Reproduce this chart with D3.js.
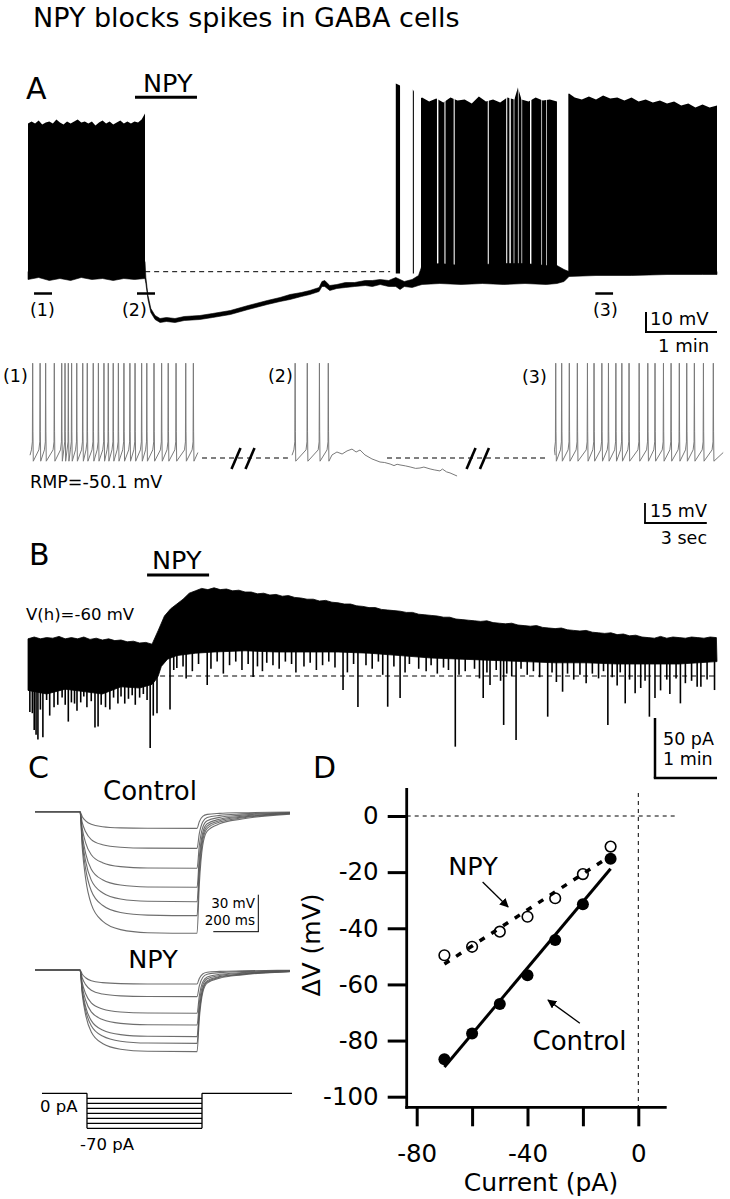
<!DOCTYPE html>
<html>
<head>
<meta charset="utf-8">
<script src="https://cdn.jsdelivr.net/npm/d3@7"></script>
<style>
  body { margin: 0; background: #fff; }
  svg { display: block; }
  text { font-family: "DejaVu Sans", Verdana, sans-serif; fill: #000; }
</style>
</head>
<body>
<div id="chart"></div>
<script>
const titleText = "NPY blocks spikes in GABA cells";

// ---- panel A : whole-cell current clamp, time in min, voltage in mV
const aRmp = -50.1;
const aNpyBar = [1.507, 2.38];
const aDashed = [1.65, 5.1];
// [t, lower edge, upper edge] of the continuous (non-spike) trace body
const aBody = [
  [0,-54,-50],[0.15,-53,-50],[0.3,-54.5,-50],[0.45,-53.5,-50],[0.6,-54.5,-50],[0.75,-53,-50],
  [0.9,-54,-50],[1.05,-53.5,-50],[1.2,-54.5,-50],[1.35,-53.5,-50],[1.5,-54,-50],[1.648,-53.5,-45],
  [1.66,-56,-53],[1.69,-64,-62],[1.73,-70.5,-68.5],[1.79,-74,-72],[1.86,-75.5,-73.5],[1.95,-75,-73],
  [2.07,-75.5,-73.5],[2.2,-74.5,-72.5],[2.42,-74,-72],[2.6,-73,-71],[2.85,-71.5,-69.5],[3.1,-69,-67],
  [3.37,-66.5,-64.5],[3.55,-65,-63],[3.69,-64,-61.5],[3.85,-62.5,-60.5],[3.97,-61.5,-59.5],[4.1,-60,-58],
  [4.14,-57.5,-55],[4.18,-57.5,-54.5],[4.25,-59.5,-57],[4.35,-58.5,-56.5],[4.47,-58,-55.5],[4.6,-57.5,-55.5],
  [4.75,-57,-54.5],[4.85,-57.5,-54.5],[4.96,-56.5,-54],[5.08,-57.5,-54.5],[5.18,-57.5,-53],[5.24,-59,-54],
  [5.3,-57.5,-55],[5.41,-58,-54],[5.5,-57,-52],[5.55,-56.5,-47],[5.8,-56,-46],[6.1,-56.5,-47],
  [6.4,-56,-46.5],[6.7,-56.5,-46],[7.0,-56,-46],[7.3,-56.5,-47],[7.45,-56,-47],[7.55,-55,-49],
  [7.62,-52.5,-50],[8.0,-52,-50],[8.5,-52,-50],[9.0,-51.5,-50],[9.5,-51.5,-50],[9.704,-51.5,-50]
];
// spike peak envelope
const aPeaks = [
  [0,24],[0.05,25],[0.1,24],[0.15,25.5],[0.2,23.5],[0.25,24.5],[0.3,25],[0.35,24],[0.4,26],[0.45,24.5],
  [0.5,23.5],[0.55,25],[0.6,24],[0.65,25],[0.7,26],[0.75,24.5],[0.8,25],[0.85,24],[0.9,25],[0.95,23],
  [1.0,24.5],[1.05,25.5],[1.1,24],[1.15,25],[1.2,23.5],[1.25,24.5],[1.3,25.5],[1.35,24],[1.4,25],
  [1.45,24],[1.5,25],[1.55,24.5],[1.6,26],[1.648,29],[5.18,44],[5.24,43],[5.3,40],[5.42,41],[5.5,36],
  [5.55,37],[5.65,35],[5.75,36.5],[5.85,34.5],[5.95,37],[6.05,35.5],[6.15,36],[6.25,34],[6.35,37.5],
  [6.45,35],[6.55,36],[6.65,34.5],[6.75,37],[6.85,36],[6.9,42],[6.95,36],[7.05,35],[7.15,37],
  [7.25,35.5],[7.35,36],[7.45,35],[7.55,38],[7.62,39],[7.7,37],[7.8,36],[7.9,37.5],[8.0,36],
  [8.1,38],[8.2,36.5],[8.3,37],[8.4,35.5],[8.5,37],[8.6,35],[8.7,36],[8.8,34.5],[8.9,35.5],
  [9.0,34],[9.1,35],[9.2,33],[9.3,34],[9.4,32],[9.5,33.5],[9.6,32],[9.704,33]
];
// intervals with firing
const aSpikeRuns = [
  [0,1.648],[5.18,5.24],[5.42,5.435],[5.535,5.76],[5.78,5.865],[5.88,5.995],[6.01,6.475],
  [6.49,6.735],[6.75,6.78],[6.8,6.84],[6.85,6.9],[6.91,6.95],[6.96,7.07],[7.09,7.23],
  [7.24,7.3],[7.31,7.45],[7.61,9.704]
];
const aWindows = [[0.085,0.338],[1.535,1.789],[7.99,8.24]];

// ---- insets (1)(2)(3): time in s from start of each sweep
const insetOffsets = [0, 12.72, 25.49];
const insetEnds = [8.15, 8.01, 8.16];
const inset1Spikes = [0.13,0.49,0.76,1.18,1.54,1.70,1.86,2.02,2.27,2.56,2.78,3.07,3.32,3.59,3.80,
  4.04,4.29,4.56,4.85,5.10,5.42,5.67,6.02,6.39,6.71,7.09,7.56,7.93];
const inset2Spikes = [0.15,0.74,1.33,1.76];
const inset2Drift = [[1.94,-47.8],[2.18,-45.6],[2.43,-47.1],[2.67,-44.8],[2.91,-43.4],[3.11,-45.6],
  [3.3,-44.1],[3.54,-47.8],[3.88,-50.8],[4.27,-53.1],[4.5,-53.5],[4.76,-54.6],[4.95,-55.8],[5.1,-54.8],
  [5.24,-55.3],[5.5,-56.0],[5.73,-56.8],[6.0,-57.9],[6.21,-57.6],[6.4,-56.9],[6.7,-58.3],[6.9,-59.0],
  [7.18,-59.8],[7.3,-58.4],[7.5,-60.5],[7.67,-61.3],[8.01,-63.6]];
const inset3Spikes = [0.03,0.32,0.69,1.08,1.57,1.89,2.27,2.59,2.95,3.24,3.59,4.08,4.50,4.85,
  5.26,5.63,6.03,6.39,6.76,7.20,7.68];
const insetDashes = [[8.35,12.52],[17.33,25.1]];
const insetBreaks = [[10.0,10.68],[21.41,22.06]];

// ---- panel B : voltage clamp, time in min, current in pA relative to baseline
const bNpyBar = [1.92, 2.92];
const bDashStart = 2.13;
const bTop = [31,32.5,31,32,31.5,33,31,32,31,32.5,30.5,31.5,30,31,29.5,30,28.5,29,27.5,28,26.5,38,50,56,60,64,69,71,73,72,
  73.5,72,72.5,71,71.5,70,70,68.5,69,67.5,68,66.5,67,65.5,65,64,64,62.5,63,61.5,61,60,60,58.5,58,57,57,55.5,55,54.5,
  54,53,53,51.5,51,50.5,50,49,49,47.5,47,46.5,46,45.5,46,44.5,44,43.5,44,42.5,42,41.5,42,40.5,40,39.5,40,38.5,38,37.5,
  38,36.5,36,35.5,36,34.5,35,33.5,34,32.5,32,31.5,33,31.5,32.5,32,31.5,32.5,32,31.5,32.5,32];
const bBottom = [[0,-12],[0.3,-15],[0.6,-11],[0.9,-13],[1.2,-15],[1.5,-9],[1.8,-10],[2.0,-7],
  [2.05,-4],[2.1,0],[2.15,8],[2.25,14],[2.4,17],[2.7,19],[3.0,20],[3.5,21],[4.0,20],[4.5,20],
  [5.0,20],[5.5,19],[6.0,17],[6.5,15],[7.0,14],[7.5,13],[8.0,12],[8.5,11],[9.0,11],[9.5,10],
  [10.0,10],[10.5,10],[11.11,12]];
// synaptic events: [t, tip current]
const bEvents = [
  [0.03,-30],[0.07,-31],[0.1,-45],[0.13,-49],[0.16,-53],[0.2,-28],[0.24,-51],[0.3,-20],[0.35,-33],
  [0.42,-26],[0.48,-24],[0.55,-18],[0.6,-24],[0.65,-38],[0.7,-22],[0.75,-23],[0.79,-29],[0.85,-22],
  [0.9,-17],[0.95,-26],[1.02,-21],[1.08,-43],[1.13,-42],[1.18,-24],[1.25,-26],[1.32,-28],[1.38,-18],
  [1.45,-23],[1.5,-17],[1.56,-23],[1.62,-19],[1.68,-16],[1.73,-24],[1.8,-18],[1.86,-15],[1.92,-20],
  [1.97,-60],[2.02,-33],[2.08,-31],
  [2.29,-28],[2.35,5],[2.4,6.7],[2.5,8],[2.55,-2],[2.65,4],[2.75,10],[2.89,-7.5],[2.95,6],[3.05,12],
  [3.15,2],[3.25,9],[3.35,12],[3.45,5],[3.55,10],[3.63,-0.8],[3.7,8],[3.78,4],[3.85,11],[3.95,9],
  [4.05,6],[4.15,12],[4.25,10],[4.32,3],[4.45,8],[4.55,11],[4.65,5],[4.75,9],[4.85,12],[4.95,7],
  [5.08,-11.7],[5.15,3],[5.25,10],[5.32,-25.8],[5.45,9],[5.55,6],[5.65,12],[5.72,1],[5.8,-25.6],
  [5.9,8],[6.0,-18.3],[6.08,3],[6.15,10],[6.3,6],[6.42,4],[6.5,9],[6.6,2],[6.7,7],[6.78,5],
  [6.89,-58.9],[6.95,1],[7.05,4],[7.2,6],[7.28,-2],[7.34,-18.3],[7.4,3],[7.45,-7.5],[7.55,5],
  [7.62,-4],[7.67,-40.8],[7.72,2],[7.8,0],[7.87,-53.3],[7.95,6],[8.05,1],[8.15,4],[8.25,-1],
  [8.38,-33.9],[8.45,3],[8.52,-5],[8.62,-13.1],[8.7,2],[8.8,-3],[8.9,1],[9.0,-6],[9.1,2],[9.2,-2],
  [9.28,4],[9.35,-40.8],[9.42,-1],[9.5,-8],[9.55,3],[9.63,-22.8],[9.7,-3],[9.79,-14.4],[9.88,-10],
  [9.95,-4],[10.02,-33.9],[10.11,-18.3],[10.2,-12],[10.3,-3],[10.35,-15],[10.45,-2],[10.52,-22.8],
  [10.6,-6],[10.7,-4],[10.79,-8.9],[10.85,-9],[10.95,-3],[11.07,-11.7]
];

// ---- panel C : current steps, time in ms, voltage in mV
const cStepWindow = [200, 720];
const cSweepEnd = 1133;
const cControlLevels = [-13.5,-29.7,-45.9,-61.3,-73,-84.3,-98.6];
const cNpyLevels = [-11.4,-21.6,-35.1,-44.6,-54,-59.5,-66.2];
const cChargeProfile = [[0,0],[10,0.3],[25,0.55],[50,0.76],[100,0.9],[180,0.97],[300,0.995],[520,1]];
const cRecoveryProfile = [[10,0.6],[25,0.28],[45,0.16],[100,0.1],[200,0.06],[413,0.02]];
const cStepCurrents = [-10,-20,-30,-40,-50,-60,-70];
const cProtocol = [31, 231, 742, 1142];

// ---- panel D : I-V relation
const dCurrents = [-70,-60,-50,-40,-30,-20,-10];
const dControl = [-86.7,-77.5,-67,-56.7,-44.2,-31.4,-15.2];
const dNpy = [-49.6,-46.6,-41.2,-35.9,-29.3,-20.7,-10.9];
const dXTicks = [-80,-60,-40,-20,0];
const dXLabels = [-80,-40,0];
const dYTicks = [0,-20,-40,-60,-80,-100];
const dArrowNpy = [[-56.2,-23.5],[-47,-32.4]];
const dArrowControl = [[-21.1,-73.8],[-32.6,-65.6]];

const W = 730, H = 1199;
const svg = d3.select("#chart").append("svg").attr("width", W).attr("height", H);

svg.append("text").attr("x", 33).attr("y", 27).attr("font-size", 27).text(titleText);

function label(x, y, txt, size, anchor) {
  return svg.append("text").attr("x", x).attr("y", y).attr("font-size", size)
    .attr("text-anchor", anchor || "start").text(txt);
}
function seg(x1, y1, x2, y2, w, dash) {
  return svg.append("line").attr("x1", x1).attr("y1", y1).attr("x2", x2).attr("y2", y2)
    .attr("stroke", "#000").attr("stroke-width", w).attr("stroke-dasharray", dash || null);
}

label(26, 99, "A", 30);
label(29, 565, "B", 30);
label(28, 778, "C", 30);
label(313, 778, "D", 30);

// ================= Panel A
const ax = d3.scaleLinear().domain([0, 9.704]).range([28, 717]);
const ay = d3.scaleLinear().domain([-50.1, -40.1]).range([271.7, 251.7]);

const defs = svg.append("defs");
defs.append("clipPath").attr("id", "a-runs").selectAll("rect").data(aSpikeRuns).enter()
  .append("rect")
    .attr("x", d => ax(d[0]))
    .attr("width", d => Math.max(1, ax(d[1]) - ax(d[0])))
    .attr("y", 0).attr("height", H);

const gA = svg.append("g");
gA.append("path").datum(aPeaks)
  .attr("clip-path", "url(#a-runs)")
  .attr("fill", "#000")
  .attr("d", d3.area().x(d => ax(d[0])).y0(ay(-51)).y1(d => ay(d[1])));
gA.append("path").datum(aBody)
  .attr("fill", "#000").attr("stroke", "#000").attr("stroke-width", 0.6)
  .attr("d", d3.area().x(d => ax(d[0])).y0(d => ay(d[1])).y1(d => ay(d[2])));

seg(ax(aDashed[0]), ay(aRmp), ax(aDashed[1]), ay(aRmp), 1, "5,4");

seg(ax(aNpyBar[0]), 97.3, ax(aNpyBar[1]), 97.3, 3);
label(143, 92, "NPY", 25.5);

aWindows.forEach(w => seg(ax(w[0]), 293.5, ax(w[1]), 293.5, 2.5));
label(30, 316, "(1)", 17.5);
label(122, 316, "(2)", 17.5);
label(593, 316, "(3)", 17.5);

// scale bar A
const aSbX = 646, aSbY = 332;
seg(aSbX, aSbY, aSbX, aSbY - (ay(-40.1) - ay(-50.1)) * -1, 2);
seg(aSbX - 1, aSbY, aSbX + ax(1) - ax(0), aSbY, 2);
label(650, 325, "10 mV", 18);
label(658, 352, "1 min", 18);

// ================= Insets
const ix = d3.scaleLinear().domain([0, 33.64]).range([30, 723]);
const iy = d3.scaleLinear().domain([-50.1, -35.1]).range([458, 438]);
const spikePeak = 21;

function spikeTrain(spikes, end, tail) {
  const pts = [[0, -48]];
  spikes.forEach(ts => {
    pts.push([ts - 0.06, -44], [ts - 0.015, -38], [ts, spikePeak], [ts + 0.012, -30], [ts + 0.03, -52.5]);
  });
  if (tail) return pts.concat(tail);
  pts.push([end, -46]);
  return pts;
}
const insetData = [
  spikeTrain(inset1Spikes, insetEnds[0]),
  spikeTrain(inset2Spikes, insetEnds[1], inset2Drift),
  spikeTrain(inset3Spikes, insetEnds[2])
];
insetData.forEach((pts, k) => {
  svg.append("path").datum(pts)
    .attr("fill", "none").attr("stroke", "#7a7a7a").attr("stroke-width", 1)
    .attr("d", d3.line().x(d => ix(insetOffsets[k] + d[0])).y(d => iy(d[1])));
});
insetDashes.forEach(d => seg(ix(d[0]), iy(aRmp), ix(d[1]), iy(aRmp), 1.2, "5,4"));
insetBreaks.forEach(b => b.forEach(t => {
  const x = ix(t), y = iy(aRmp);
  seg(x - 4.5, y + 11, x + 4.5, y - 10, 2.6);
}));
label(3, 382, "(1)", 17.5);
label(268, 382, "(2)", 17.5);
label(522, 383, "(3)", 17.5);
label(30, 488, "RMP=-50.1 mV", 17.5);

// inset scale bar: 15 mV, 3 s
const iSbX = 645, iSbY = 523;
seg(iSbX, iSbY, iSbX, iSbY - (iy(-35.1) - iy(-50.1)) * -1, 1.8);
seg(iSbX - 0.9, iSbY, iSbX + ix(3) - ix(0), iSbY, 1.8);
label(650, 517, "15 mV", 17.5);
label(707, 544, "3 sec", 17.5, "end");

// ================= Panel B
const bx = d3.scaleLinear().domain([0, 11.11]).range([28, 717]);
const by = d3.scaleLinear().domain([0, 50]).range([676, 616]);
const bTopPts = bTop.map((v, i) => [Math.min(i * 0.1, 11.11), v]);
const bottomAt = d3.scaleLinear().domain(bBottom.map(d => d[0])).range(bBottom.map(d => d[1]));

const bodyPts = bTopPts.concat(bBottom.slice().reverse());
svg.append("path").datum(bodyPts)
  .attr("fill", "#000").attr("stroke", "#000").attr("stroke-width", 0.8)
  .attr("d", d => d3.line().x(p => bx(p[0])).y(p => by(p[1]))(d) + "Z");

svg.append("g").selectAll("line").data(bEvents.filter(e => e[1] < bottomAt(e[0]))).enter()
  .append("line")
    .attr("x1", d => bx(d[0])).attr("x2", d => bx(d[0]))
    .attr("y1", d => by(bottomAt(d[0])) - 2).attr("y2", d => by(d[1]))
    .attr("stroke", "#000").attr("stroke-width", 1.6);

seg(bx(bDashStart), by(0), bx(11.11), by(0), 1, "5,4");
seg(bx(bNpyBar[0]), 575, bx(bNpyBar[1]), 575, 3);
label(152, 569, "NPY", 25.5);
label(26, 620, "V(h)=-60 mV", 16.5);

const bSbX = 655, bSbY = 778;
seg(bSbX, bSbY, bSbX, bSbY - (by(0) - by(50)), 2.5);
seg(bSbX - 1.2, bSbY, bSbX + bx(1) - bx(0), bSbY, 2.5);
label(663, 745, "50 pA", 17.5);
label(663, 765, "1 min", 17.5);

// ================= Panel C
const cx = d3.scaleLinear().domain([0, cSweepEnd]).range([35, 290]);
const cyCtrl = d3.scaleLinear().domain([0, -30]).range([811.7, 848.7]);
const cyNpy = d3.scaleLinear().domain([0, -30]).range([970, 1007]);

function sweep(level) {
  return [[0, 0], [cStepWindow[0], 0]]
    .concat(cChargeProfile.slice(1).map(([dt, f]) => [cStepWindow[0] + dt, f * level]))
    .concat(cRecoveryProfile.map(([dt, f]) => [cStepWindow[1] + dt, f * level]));
}
[[cControlLevels, cyCtrl], [cNpyLevels, cyNpy]].forEach(([levels, yScale]) => {
  const line = d3.line().x(d => cx(d[0])).y(d => yScale(d[1])).curve(d3.curveMonotoneX);
  svg.append("g").selectAll("path").data(levels.map(sweep)).enter()
    .append("path")
      .attr("fill", "none").attr("stroke", "#555").attr("stroke-opacity", 0.85).attr("stroke-width", 1.1)
      .attr("d", line);
});
label(150, 800, "Control", 26, "middle");
label(153, 968, "NPY", 25.5, "middle");

// C scale bar: 30 mV, 200 ms
const cSbX = 258.3, cSbY = 931.7;
seg(cSbX, cSbY, cSbX, cSbY - (cyCtrl(-30) - cyCtrl(0)), 1);
seg(cSbX - (cx(200) - cx(0)), cSbY, cSbX + 0.5, cSbY, 1);
label(255, 908, "30 mV", 13.5, "end");
label(255, 925, "200 ms", 13.5, "end");

// current protocol
const py = d3.scaleLinear().domain([0, -70]).range([1093.3, 1128.3]);
const gP = svg.append("g").attr("stroke", "#000").attr("stroke-width", 1.3);
gP.append("line").attr("x1", cx(cProtocol[0])).attr("x2", cx(cProtocol[1])).attr("y1", py(0)).attr("y2", py(0));
gP.append("line").attr("x1", cx(cProtocol[2])).attr("x2", cx(cProtocol[3])).attr("y1", py(0)).attr("y2", py(0));
[cProtocol[1], cProtocol[2]].forEach(t =>
  gP.append("line").attr("x1", cx(t)).attr("x2", cx(t)).attr("y1", py(0)).attr("y2", py(-70)));
gP.selectAll(".step").data(cStepCurrents).enter().append("line")
  .attr("x1", cx(cProtocol[1])).attr("x2", cx(cProtocol[2]))
  .attr("y1", d => py(d)).attr("y2", d => py(d));
label(40, 1112, "0 pA", 16.5);
label(80, 1150, "-70 pA", 16.5);

// ================= Panel D
const dx = d3.scaleLinear().domain([-80, 0]).range([416.7, 638.3]);
const dy = d3.scaleLinear().domain([0, -100]).range([816, 1096.7]);

seg(dx(-80) - 10, dy(0), 675, dy(0), 1, "4,4");
seg(dx(0), 793, dx(0), 1107, 1, "4,4");

const yAx = svg.append("g").attr("transform", "translate(406.7,0)")
  .call(d3.axisLeft(dy).tickValues(dYTicks).tickSize(19).tickPadding(9).tickFormat(d => String(d)));
const xAx = svg.append("g").attr("transform", "translate(0,1107.3)")
  .call(d3.axisBottom(dx).tickValues(dXTicks).tickSize(19).tickPadding(18)
    .tickFormat(d => dXLabels.includes(d) ? String(d) : ""));
[yAx, xAx].forEach(g => {
  g.select(".domain").remove();
  g.selectAll(".tick line").attr("stroke-width", 3);
  g.selectAll(".tick text").attr("font-size", 24.5).attr("font-family", "DejaVu Sans, Verdana, sans-serif");
});
seg(406.7, 788, 406.7, 1108.7, 2.8);
seg(405.3, 1107.3, 666.7, 1107.3, 2.8);

function fit(xs, ys) {
  const mx = d3.mean(xs), my = d3.mean(ys);
  const slope = d3.sum(xs, (x, i) => (x - mx) * (ys[i] - my)) / d3.sum(xs, x => (x - mx) * (x - mx));
  return x => my + slope * (x - mx);
}
const fc = fit(dCurrents, dControl), fn = fit(dCurrents, dNpy);
seg(dx(-70), dy(fc(-70)), dx(-10), dy(fc(-10)), 3);
seg(dx(-70), dy(fn(-70)), dx(-10), dy(fn(-10)), 3.5, "6,8");

svg.append("g").selectAll("circle").data(dCurrents).enter().append("circle")
  .attr("cx", d => dx(d)).attr("cy", (d, i) => dy(dControl[i])).attr("r", 6).attr("fill", "#000");
svg.append("g").selectAll("circle").data(dCurrents).enter().append("circle")
  .attr("cx", d => dx(d)).attr("cy", (d, i) => dy(dNpy[i])).attr("r", 5.3)
  .attr("fill", "none").attr("stroke", "#000").attr("stroke-width", 1.6);

defs.append("marker").attr("id", "arrow").attr("viewBox", "0 0 10 10")
  .attr("refX", 9).attr("refY", 5).attr("markerWidth", 9).attr("markerHeight", 9)
  .attr("markerUnits", "userSpaceOnUse").attr("orient", "auto")
  .append("path").attr("d", "M0,0 L10,5 L0,10 Z").attr("fill", "#000");
[dArrowNpy, dArrowControl].forEach(a => {
  seg(dx(a[0][0]), dy(a[0][1]), dx(a[1][0]), dy(a[1][1]), 1.3).attr("marker-end", "url(#arrow)");
});
label(473, 875, "NPY", 25.5, "middle");
label(579.5, 1050, "Control", 26, "middle");

label(541, 1191, "Current (pA)", 25, "middle");
svg.append("text").attr("transform", "translate(320,945) rotate(-90)")
  .attr("text-anchor", "middle").attr("font-size", 25).text("ΔV (mV)");
</script>
</body>
</html>
